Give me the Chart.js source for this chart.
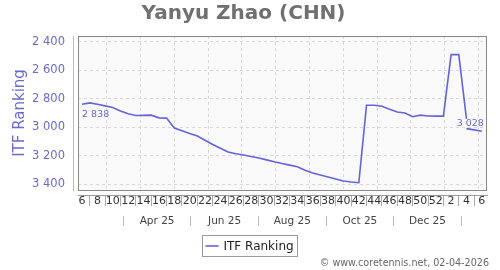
<!DOCTYPE html>
<html>
<head>
<meta charset="utf-8">
<title>Yanyu Zhao (CHN) - ITF Ranking</title>
<script src="https://cdn.jsdelivr.net/npm/chart.js@4.4.1/dist/chart.umd.min.js"></script>
<style>
    html, body { margin: 0; padding: 0; background: #fff; }
    #wrap { width: 500px; height: 270px; }
</style>
</head>
<body>
<div id="wrap"><canvas id="rankChart" width="500" height="270"></canvas></div>
<script>
/** Ranking chart - draws the weekly ITF ranking of one player. */

// Week labels on the x axis, one every two weeks (week 6 of 2025 to week 6 of 2026)
const weekLabels = ['6', '8', '10', '12', '14', '16', '18', '20', '22', '24', '26', '28', '30',
    '32', '34', '36', '38', '40', '42', '44', '46', '48', '50', '52', '2', '4', '6'];
const monthLabels = ['Apr 25', 'Jun 25', 'Aug 25', 'Oct 25', 'Dec 25'];
const rankTicks = [2400, 2600, 2800, 3000, 3200, 3400];

// Weeks counted from week 6 of 2025, and the ranking for each of them
const rankWeeks = [0, 1, 2, 3, 4, 5, 6, 7, 8, 9, 10, 11, 12, 13, 14, 15, 16, 17, 18, 19, 20,
    21, 22, 23, 24, 25, 26, 27, 28, 29, 30, 31, 32, 33, 34, 35, 36, 37, 38, 39, 40, 41, 42,
    43, 44, 45, 46, 47, 48, 49, 50, 50, 51, 52];
const rankValues = [2838, 2829, 2838, 2850, 2861, 2886, 2905, 2918, 2917, 2915, 2934, 2936,
    3006, 3025, 3044, 3062, 3092, 3122, 3148, 3174, 3187, 3196, 3206, 3217, 3230, 3243, 3256,
    3267, 3279, 3303, 3323, 3337, 3351, 3365, 3379, 3386, 3391, 2845, 2845, 2853, 2873, 2893,
    2900, 2926, 2915, 2921, 2922, 2922, 2489, 2489, 2941, 3010, 3019, 3028];
// The line is not joined into this point
const seriesBreak = 51;

const seriesLabel = 'ITF Ranking';
const lineColor = '#6464d8';
const textColor = '#6a6acc';

Chart.defaults.font.family = "'DejaVu Sans', sans-serif";

/**
 * Formats a ranking with a space as thousands separator.
 * @param {number} value - Ranking.
 * @returns formatted text
 */
function formatRank(value) {
    return String(Math.round(value)).replace(/\B(?=(\d{3})+(?!\d))/g, ' ');
}

const xMin = -0.52;
const xMax = 52.67;

/** Draws the plot frame, y axis line, point labels, legend and credit line. */
const framePlugin = {
    id: 'frame',
    beforeDraw(chart) {
        const { ctx, chartArea: a } = chart;
        ctx.save();
        ctx.fillStyle = '#f9f9f9';
        ctx.fillRect(a.left, a.top, a.width, a.height);
        ctx.restore();
    },
    afterDraw(chart) {
        const { ctx, chartArea: a } = chart;
        ctx.save();
        // frame
        ctx.strokeStyle = '#888';
        ctx.lineWidth = 1;
        ctx.strokeRect(Math.round(a.left) + 0.5, Math.round(a.top) + 0.5,
            Math.round(a.width) - 1, Math.round(a.height));
        // y axis line
        ctx.strokeStyle = '#b4b4e6';
        ctx.beginPath();
        ctx.moveTo(Math.round(a.left) - 4.5, a.top);
        ctx.lineTo(Math.round(a.left) - 4.5, a.bottom + 1);
        ctx.stroke();

        // first and last values
        const meta = chart.getDatasetMeta(0);
        const first = meta.data[0];
        const last = meta.data[meta.data.length - 1];
        ctx.fillStyle = textColor;
        ctx.font = "9.5px 'DejaVu Sans'";
        ctx.textBaseline = 'middle';
        ctx.textAlign = 'left';
        ctx.fillText(formatRank(rankValues[0]), first.x, first.y + 10);
        ctx.textAlign = 'right';
        ctx.fillText(formatRank(rankValues[rankValues.length - 1]), last.x + 2, last.y - 8);

        // legend
        ctx.font = "12px 'DejaVu Sans'";
        const textW = ctx.measureText(seriesLabel).width;
        const boxW = 3 + 13 + 5 + textW + 4;
        const boxX = Math.round(chart.width / 2 - boxW / 2) + 0.5;
        const boxY = 235.5;
        ctx.strokeStyle = '#999';
        ctx.strokeRect(boxX, boxY, Math.round(boxW), 21);
        ctx.strokeStyle = lineColor;
        ctx.lineWidth = 1.6;
        ctx.beginPath();
        ctx.moveTo(boxX + 3, boxY + 10.5);
        ctx.lineTo(boxX + 16, boxY + 10.5);
        ctx.stroke();
        ctx.fillStyle = '#222';
        ctx.textAlign = 'left';
        ctx.fillText(seriesLabel, boxX + 21, boxY + 11);

        // credit
        ctx.font = "9.6px 'DejaVu Sans'";
        ctx.fillStyle = '#666';
        ctx.textAlign = 'right';
        ctx.fillText('\u00a9 www.coretennis.net, 02-04-2026', 489, 263);
        ctx.restore();
    }
};

function main() {
    const context = document.getElementById('rankChart');
    const points = rankWeeks.map((week, i) => ({ x: week, y: rankValues[i] }));
    new Chart(context, {
        type: 'line',
        data: {
            datasets: [{
                label: seriesLabel,
                data: points,
                borderColor: lineColor,
                borderWidth: 1.6,
                pointRadius: 0,
                tension: 0,
                fill: false,
                segment: {
                    borderColor: c => c.p1DataIndex === seriesBreak ? 'rgba(0,0,0,0)' : undefined
                }
            }]
        },
        options: {
            responsive: false,
            animation: false,
            devicePixelRatio: 1,
            layout: { padding: { left: 0, right: 13, top: 0, bottom: 40 } },
            plugins: {
                legend: { display: false },
                tooltip: { enabled: false },
                title: {
                    display: true,
                    text: 'Yanyu Zhao (CHN)',
                    color: '#707070',
                    font: { size: 20, weight: 'bold' },
                    padding: { top: 2, bottom: 10 }
                }
            },
            scales: {
                x: {
                    type: 'linear',
                    position: 'bottom',
                    weight: 0,
                    min: xMin,
                    max: xMax,
                    afterBuildTicks: scale => {
                        scale.ticks = [];
                        for (let k = 0; k < 12; k++) {
                            scale.ticks.push({ value: 3.21 + k * 4.395 });
                        }
                    },
                    afterFit: scale => { scale.height = 5; },
                    ticks: { display: false },
                    grid: { color: '#d9d9d9', drawTicks: false },
                    border: { display: false, dash: [3, 3] }
                },
                xWeek: {
                    type: 'linear',
                    position: 'bottom',
                    weight: 1,
                    min: xMin,
                    max: xMax,
                    afterBuildTicks: scale => {
                        scale.ticks = [];
                        for (let i = 0; i <= 52; i++) {
                            scale.ticks.push({ value: i });
                        }
                    },
                    afterFit: scale => { scale.height = 21; },
                    ticks: {
                        autoSkip: false,
                        maxRotation: 0,
                        minRotation: 0,
                        padding: -11,
                        color: '#333',
                        font: { size: 11 },
                        callback: (value, index) => index % 2 === 0 ? weekLabels[index / 2] : ''
                    },
                    grid: {
                        drawOnChartArea: false,
                        tickLength: 11,
                        tickColor: c => c.index % 2 === 1 ? '#aaa' : 'rgba(0,0,0,0)'
                    },
                    border: { display: true, color: '#999', width: 1 }
                },
                xMonth: {
                    type: 'linear',
                    position: 'bottom',
                    weight: 2,
                    min: xMin,
                    max: xMax,
                    afterBuildTicks: scale => {
                        scale.ticks = [];
                        for (let k = 0; k <= 10; k++) {
                            scale.ticks.push({ value: 5.37 + k * 4.395 });
                        }
                    },
                    afterFit: scale => { scale.height = 14; },
                    ticks: {
                        autoSkip: false,
                        maxRotation: 0,
                        minRotation: 0,
                        padding: -11,
                        color: '#444',
                        font: { size: 10.5 },
                        callback: (value, index) => index % 2 === 1 ? monthLabels[(index - 1) / 2] : ''
                    },
                    grid: {
                        drawOnChartArea: false,
                        tickLength: 10,
                        tickColor: c => c.index % 2 === 0 ? '#bbb' : 'rgba(0,0,0,0)'
                    },
                    border: { display: false }
                },
                y: {
                    type: 'linear',
                    position: 'left',
                    reverse: true,
                    min: 2358,
                    max: 3442,
                    afterBuildTicks: scale => {
                        scale.ticks = rankTicks.map(v => ({ value: v }));
                    },
                    afterFit: scale => { scale.width = 78; },
                    ticks: {
                        padding: 13,
                        color: textColor,
                        font: { size: 11.5 },
                        callback: v => formatRank(v)
                    },
                    grid: { color: '#d9d9d9', drawTicks: false },
                    border: { display: false, dash: [3, 3] },
                    title: {
                        display: true,
                        text: seriesLabel,
                        color: textColor,
                        font: { size: 15 },
                        padding: { top: 11, bottom: 0 }
                    }
                }
            }
        },
        plugins: [framePlugin]
    });
}

window.onload = main;
</script>
</body>
</html>
